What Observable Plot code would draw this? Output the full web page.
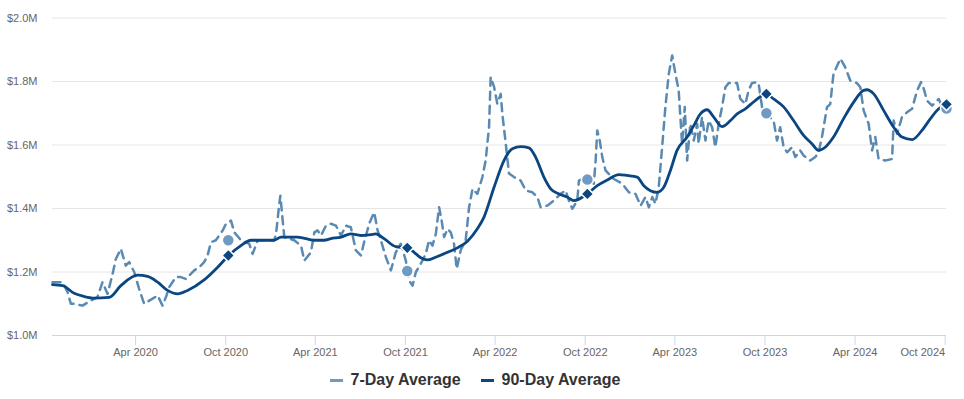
<!DOCTYPE html>
<html>
<head>
<meta charset="utf-8">
<script src="https://cdn.jsdelivr.net/npm/d3@7"></script>
<script src="https://cdn.jsdelivr.net/npm/@observablehq/plot@0.6"></script>
<style>
  html, body { margin: 0; padding: 0; background: #fff; }
  #chart { width: 964px; }
  #legend { display: flex; justify-content: center; align-items: center; height: 30px; padding-right: 14px;
    font: bold 16px "Liberation Sans", Arial, sans-serif; color: #333; }
  .item { display: flex; align-items: center; margin: 0 10px; }
  .sym { display: inline-block; width: 13px; height: 3px; margin-right: 8px; }
</style>
</head>
<body>
<div id="chart"></div>
<div id="legend">
  <div class="item"><span class="sym" style="background:#6f9bc0"></span>7-Day Average</div>
  <div class="item"><span class="sym" style="background:#0b4680"></span>90-Day Average</div>
</div>
<script>
// ---- Data (time as decimal years, values in $ millions) ----
const t7 = [2019.787,2019.843,2019.871,2019.889,2019.907,2019.954,2020.0,2020.037,2020.065,2020.093,2020.121,2020.139,2020.167,2020.194,2020.213,2020.241,2020.268,2020.296,2020.343,2020.371,2020.398,2020.417,2020.435,2020.472,2020.5,2020.528,2020.546,2020.574,2020.602,2020.629,2020.648,2020.667,2020.694,2020.732,2020.75,2020.778,2020.796,2020.833,2020.879,2020.898,2020.926,2020.982,2021.018,2021.028,2021.046,2021.052,2021.065,2021.074,2021.129,2021.167,2021.185,2021.222,2021.241,2021.259,2021.278,2021.306,2021.333,2021.361,2021.389,2021.417,2021.444,2021.472,2021.5,2021.518,2021.546,2021.574,2021.593,2021.611,2021.639,2021.667,2021.694,2021.722,2021.75,2021.768,2021.787,2021.806,2021.833,2021.861,2021.879,2021.898,2021.917,2021.935,2021.948,2021.963,2021.982,2022.0,2022.018,2022.033,2022.056,2022.083,2022.102,2022.121,2022.148,2022.176,2022.194,2022.213,2022.222,2022.241,2022.259,2022.278,2022.287,2022.306,2022.324,2022.352,2022.389,2022.417,2022.454,2022.482,2022.5,2022.537,2022.574,2022.611,2022.639,2022.657,2022.676,2022.704,2022.713,2022.732,2022.761,2022.796,2022.806,2022.815,2022.829,2022.843,2022.861,2022.907,2022.954,2022.991,2023.028,2023.056,2023.083,2023.102,2023.121,2023.139,2023.157,2023.176,2023.194,2023.213,2023.232,2023.25,2023.268,2023.287,2023.302,2023.315,2023.333,2023.352,2023.371,2023.379,2023.398,2023.417,2023.435,2023.454,2023.472,2023.491,2023.509,2023.528,2023.546,2023.593,2023.611,2023.639,2023.657,2023.676,2023.704,2023.713,2023.732,2023.752,2023.796,2023.815,2023.833,2023.852,2023.871,2023.898,2023.917,2023.944,2023.963,2024.0,2024.028,2024.046,2024.065,2024.093,2024.111,2024.129,2024.167,2024.194,2024.222,2024.259,2024.278,2024.296,2024.324,2024.343,2024.361,2024.379,2024.417,2024.454,2024.463,2024.482,2024.509,2024.537,2024.565,2024.593,2024.615,2024.63,2024.648,2024.676,2024.713,2024.741,2024.756];
const v7 = [1.168,1.168,1.136,1.10,1.10,1.094,1.11,1.121,1.168,1.131,1.194,1.241,1.273,1.22,1.231,1.20,1.147,1.10,1.116,1.126,1.094,1.121,1.152,1.184,1.184,1.178,1.189,1.205,1.215,1.231,1.252,1.294,1.30,1.331,1.352,1.362,1.325,1.30,1.289,1.257,1.30,1.30,1.30,1.32,1.415,1.44,1.362,1.31,1.30,1.283,1.236,1.262,1.325,1.331,1.315,1.346,1.352,1.346,1.315,1.346,1.341,1.268,1.252,1.294,1.352,1.388,1.331,1.30,1.247,1.205,1.262,1.289,1.236,1.173,1.157,1.20,1.226,1.257,1.30,1.283,1.32,1.404,1.367,1.31,1.336,1.325,1.289,1.21,1.27,1.30,1.404,1.462,1.446,1.499,1.551,1.656,1.814,1.783,1.73,1.761,1.698,1.604,1.51,1.499,1.488,1.457,1.451,1.436,1.404,1.409,1.425,1.446,1.457,1.425,1.399,1.425,1.488,1.493,1.491,1.478,1.551,1.646,1.614,1.562,1.52,1.493,1.478,1.451,1.446,1.409,1.436,1.404,1.436,1.415,1.467,1.593,1.719,1.824,1.882,1.824,1.772,1.604,1.72,1.551,1.667,1.614,1.667,1.604,1.688,1.614,1.677,1.656,1.593,1.667,1.719,1.782,1.795,1.795,1.745,1.729,1.772,1.795,1.798,1.793,1.719,1.70,1.677,1.614,1.656,1.593,1.577,1.593,1.562,1.583,1.567,1.551,1.562,1.577,1.625,1.719,1.729,1.824,1.872,1.845,1.803,1.795,1.782,1.709,1.667,1.583,1.625,1.556,1.551,1.556,1.677,1.635,1.688,1.703,1.714,1.772,1.798,1.777,1.74,1.724,1.745,1.709,1.715];

const t90 = [2019.787,2019.843,2019.907,2019.963,2020.018,2020.102,2020.167,2020.259,2020.315,2020.371,2020.426,2020.482,2020.537,2020.629,2020.704,2020.765,2020.833,2020.889,2020.982,2021.017,2021.056,2021.148,2021.241,2021.296,2021.333,2021.389,2021.444,2021.5,2021.556,2021.583,2021.629,2021.694,2021.758,2021.796,2021.833,2021.871,2021.926,2021.982,2022.037,2022.093,2022.148,2022.185,2022.241,2022.296,2022.343,2022.389,2022.435,2022.472,2022.518,2022.556,2022.602,2022.648,2022.685,2022.759,2022.815,2022.871,2022.935,2022.982,2023.037,2023.074,2023.148,2023.185,2023.222,2023.259,2023.315,2023.352,2023.389,2023.426,2023.463,2023.509,2023.556,2023.593,2023.639,2023.694,2023.756,2023.796,2023.852,2023.907,2023.963,2024.009,2024.046,2024.083,2024.129,2024.185,2024.241,2024.296,2024.315,2024.352,2024.407,2024.463,2024.509,2024.565,2024.62,2024.667,2024.713,2024.756];
const v90 = [1.16,1.157,1.133,1.123,1.118,1.12,1.157,1.19,1.186,1.168,1.142,1.131,1.142,1.175,1.215,1.252,1.283,1.30,1.30,1.30,1.31,1.31,1.30,1.30,1.305,1.31,1.32,1.315,1.318,1.32,1.305,1.28,1.276,1.262,1.245,1.238,1.249,1.262,1.276,1.297,1.336,1.373,1.467,1.551,1.588,1.595,1.591,1.562,1.499,1.462,1.446,1.436,1.425,1.446,1.472,1.49,1.507,1.504,1.499,1.472,1.451,1.467,1.52,1.583,1.625,1.661,1.698,1.711,1.688,1.658,1.677,1.698,1.714,1.74,1.761,1.745,1.72,1.677,1.63,1.604,1.583,1.593,1.625,1.683,1.735,1.772,1.774,1.761,1.709,1.656,1.625,1.617,1.646,1.683,1.714,1.728];

// Anniversary markers (early October each year)
const markerT = [2020.763, 2021.758, 2022.760, 2023.756, 2024.756];
const marker7 = [1.30, 1.203, 1.491, 1.70, 1.715];
const marker90 = [1.252, 1.276, 1.446, 1.761, 1.728];

const tickDates = ["2020-04-01","2020-10-01","2021-04-01","2021-10-01","2022-04-01","2022-10-01","2023-04-01","2023-10-01","2024-04-01","2024-10-01"];
const yTicks = [1.0, 1.2, 1.4, 1.6, 1.8, 2.0];

// ---- helpers ----
function fromDec(y) {
  const yr = Math.floor(y);
  const a = Date.UTC(yr, 0, 1), b = Date.UTC(yr + 1, 0, 1);
  return new Date(a + (y - yr) * (b - a));
}
const s7 = t7.map((t, i) => ({date: fromDec(t), value: v7[i]}));
const s90 = t90.map((t, i) => ({date: fromDec(t), value: v90[i]}));
const m7 = markerT.map((t, i) => ({date: fromDec(t), value: marker7[i]}));
const m90 = markerT.map((t, i) => ({date: fromDec(t), value: marker90[i]}));
const ticks = tickDates.map(d => new Date(d + "T00:00:00Z"));
const fmt = d3.utcFormat("%b %Y");

const c7 = "#5a8ab2", c7dot = "#6f9bc3", c90 = "#0b4680";

const chart = Plot.plot({
  width: 964,
  height: 365,
  marginLeft: 52,
  marginRight: 18,
  marginTop: 17.5,
  marginBottom: 30,
  style: {fontFamily: "'Liberation Sans', Arial, sans-serif", fontSize: "11px", color: "#666", background: "#fff"},
  x: {type: "utc", domain: [fromDec(2019.787), fromDec(2024.756)]},
  y: {domain: [1.0, 2.0]},
  marks: [
    Plot.gridY(yTicks, {stroke: "#e6e6e6", strokeOpacity: 1}),
    Plot.axisY(yTicks, {tickSize: 0, tickPadding: 15, tickFormat: d => "$" + d.toFixed(1) + "M", fill: "#666", label: null}),
    Plot.ruleY([1.0], {stroke: "#ccd6eb"}),
    Plot.axisX(ticks.slice(0, -1), {tickSize: 10, tickPadding: 3, stroke: "#ccd6eb", strokeOpacity: 1, fill: "#666", tickFormat: fmt, label: null}),
    Plot.axisX(ticks.slice(-1), {tickSize: 10, tickPadding: 3, stroke: "#ccd6eb", strokeOpacity: 1, fill: "#666", tickFormat: fmt, textAnchor: "end", label: null}),
    Plot.lineY(s7, {x: "date", y: "value", stroke: c7, strokeWidth: 2.5, strokeDasharray: "8,6", curve: "linear"}),
    Plot.lineY(s90, {x: "date", y: "value", stroke: c90, strokeWidth: 2.8, curve: "monotone-x"}),
    Plot.dot(m7, {x: "date", y: "value", r: 6, fill: c7dot, stroke: "#fff", strokeWidth: 1.5}),
    Plot.dot(m90, {x: "date", y: "value", symbol: "square", r: 5, rotate: 45, fill: c90, stroke: "#fff", strokeWidth: 1.5})
  ]
});
document.getElementById("chart").appendChild(chart);
</script>
</body>
</html>
